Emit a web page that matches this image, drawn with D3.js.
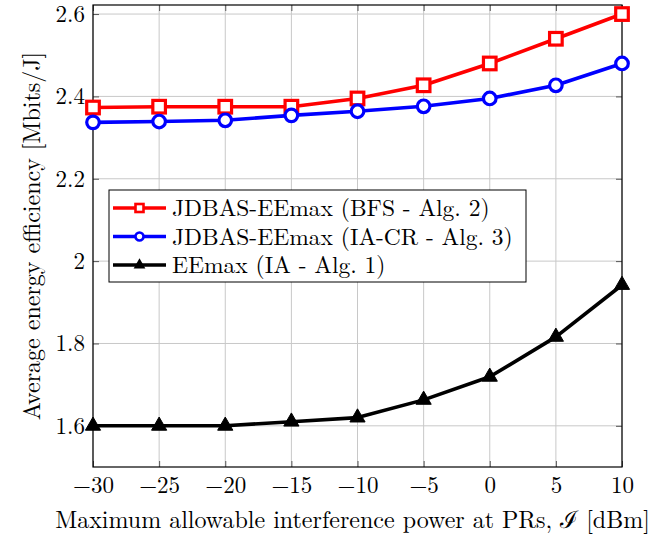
<!DOCTYPE html>
<html>
<head>
<meta charset="utf-8">
<script src="https://cdn.jsdelivr.net/npm/d3@7"></script>
<style>
  body { margin: 0; background: #fff; }
  text { font-family: "Latin Modern Roman", "CMU Serif", "Liberation Serif", "DejaVu Serif", serif; }
</style>
</head>
<body>
<svg id="chart" width="666" height="534"></svg>
<script>
// x values (interference power, dBm)
var xValues = [-30, -25, -20, -15, -10, -5, 0, 5, 10];

// series values
var bfsValues = [2.373, 2.375, 2.375, 2.375, 2.395, 2.427, 2.480, 2.540, 2.600];
var iacrValues = [2.337, 2.339, 2.342, 2.354, 2.364, 2.376, 2.395, 2.427, 2.480];
var iaValues = [1.600, 1.600, 1.600, 1.610, 1.620, 1.663, 1.719, 1.816, 1.942];

var seriesNames = ["JDBAS-EEmax (BFS - Alg. 2)", "JDBAS-EEmax (IA-CR - Alg. 3)", "EEmax (IA - Alg. 1)"];
var seriesColors = ["#ff0000", "#0000ff", "#000000"];
var seriesMarkers = ["square", "circle", "triangle"];

var xTicks = [-30, -25, -20, -15, -10, -5, 0, 5, 10];
var yTicks = [1.6, 1.8, 2.0, 2.2, 2.4, 2.6];

var margin = { left: 93, top: 5, right: 44, bottom: 67 };
var width = 666 - margin.left - margin.right;
var height = 534 - margin.top - margin.bottom;

var svg = d3.select("#chart");
var g = svg.append("g").attr("transform", "translate(" + margin.left + "," + margin.top + ")");

var x = d3.scaleLinear().domain([-30, 10]).range([0, width]);
var y = d3.scaleLinear().domain([1.5, 2.622]).range([height, 0]);

// grid lines
g.append("g").selectAll("line")
  .data(xTicks)
  .join("line")
  .attr("x1", d => x(d)).attr("x2", d => x(d))
  .attr("y1", 0).attr("y2", height)
  .attr("stroke", "#c8c8c8").attr("stroke-width", 1);

g.append("g").selectAll("line")
  .data(yTicks)
  .join("line")
  .attr("x1", 0).attr("x2", width)
  .attr("y1", d => y(d)).attr("y2", d => y(d))
  .attr("stroke", "#c8c8c8").attr("stroke-width", 1);

// axes with ticks pointing inside
var fmtX = d => (d < 0 ? "\u2212" + Math.abs(d) : "" + d);
var fmtY = d => (d === 2 ? "2" : d3.format(".1f")(d));

var xAxis = g.append("g").attr("transform", "translate(0," + height + ")")
  .call(d3.axisBottom(x).tickValues(xTicks).tickFormat(fmtX).tickSizeInner(-6).tickSizeOuter(0).tickPadding(10));
var xTop = g.append("g")
  .call(d3.axisTop(x).tickValues(xTicks).tickFormat("").tickSizeInner(-6).tickSizeOuter(0));
var yAxis = g.append("g")
  .call(d3.axisLeft(y).tickValues(yTicks).tickFormat(fmtY).tickSizeInner(-6).tickSizeOuter(0).tickPadding(8));
var yRight = g.append("g").attr("transform", "translate(" + width + ",0)")
  .call(d3.axisRight(y).tickValues(yTicks).tickFormat("").tickSizeInner(-6).tickSizeOuter(0));

[xAxis, xTop, yAxis, yRight].forEach(a => {
  a.select(".domain").remove();
  a.selectAll(".tick line").attr("stroke", "#555").attr("stroke-width", 1);
  a.selectAll("text").attr("fill", "#000").style("font-size", "23px");
});

// frame
g.append("rect")
  .attr("width", width).attr("height", height)
  .attr("fill", "none").attr("stroke", "#000").attr("stroke-width", 1.2);

// marker drawing
function drawMarker(sel, type, color, s) {
  if (type === "square") {
    sel.append("rect")
      .attr("x", -s).attr("y", -s).attr("width", 2 * s).attr("height", 2 * s)
      .attr("fill", "#fff").attr("stroke", color).attr("stroke-width", 3.2);
  } else if (type === "circle") {
    sel.append("circle").attr("r", s)
      .attr("fill", "#fff").attr("stroke", color).attr("stroke-width", 3.2);
  } else {
    sel.append("path")
      .attr("d", d3.symbol().type(d3.symbolTriangle).size(s)())
      .attr("fill", color).attr("stroke", color).attr("stroke-width", 1);
  }
}

var allSeries = [bfsValues, iacrValues, iaValues];
var line = d3.line().x((d, i) => x(xValues[i])).y(d => y(d));

allSeries.forEach((vals, k) => {
  g.append("path")
    .datum(vals)
    .attr("d", line)
    .attr("fill", "none")
    .attr("stroke", seriesColors[k])
    .attr("stroke-width", 3.6)
    .attr("stroke-linejoin", "round");
  g.append("g").selectAll("g")
    .data(vals)
    .join("g")
    .attr("transform", (d, i) => "translate(" + x(xValues[i]) + "," + y(d) + ")")
    .each(function() { drawMarker(d3.select(this), seriesMarkers[k], seriesColors[k], k === 2 ? 100 : 6.3); });
});

// legend
var legend = svg.append("g").attr("transform", "translate(109,190)");
legend.append("rect")
  .attr("width", 417).attr("height", 92)
  .attr("fill", "#fff").attr("stroke", "#000").attr("stroke-width", 1);
seriesNames.forEach((name, k) => {
  var row = legend.append("g").attr("transform", "translate(0," + (18 + k * 28.5) + ")");
  row.append("line").attr("x1", 4).attr("x2", 57).attr("stroke", seriesColors[k]).attr("stroke-width", 3.6);
  var m = row.append("g").attr("transform", "translate(30.5,0)");
  if (seriesMarkers[k] === "square") {
    m.append("rect").attr("x", -4).attr("y", -4).attr("width", 8).attr("height", 8)
      .attr("fill", "#fff").attr("stroke", seriesColors[k]).attr("stroke-width", 2.6);
  } else if (seriesMarkers[k] === "circle") {
    m.append("circle").attr("r", 4).attr("fill", "#fff").attr("stroke", seriesColors[k]).attr("stroke-width", 2.6);
  } else {
    m.append("path").attr("d", d3.symbol().type(d3.symbolTriangle).size(60)())
      .attr("fill", seriesColors[k]);
  }
  row.append("text").attr("x", 63).attr("y", 8)
    .style("font-size", "23.5px").text(name);
});

// axis labels
svg.append("text")
  .attr("x", margin.left + width / 2 - 5).attr("y", 528)
  .attr("text-anchor", "middle").style("font-size", "24px")
  .text("Maximum allowable interference power at PRs, \u2110 [dBm]");

svg.append("text")
  .attr("transform", "translate(40," + (margin.top + height / 2) + ") rotate(-90)")
  .attr("text-anchor", "middle").style("font-size", "24px")
  .text("Average energy efficiency [Mbits/J]");
</script>
</body>
</html>
